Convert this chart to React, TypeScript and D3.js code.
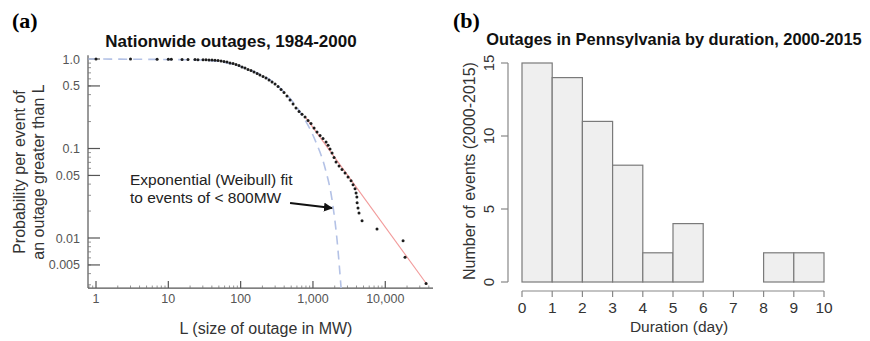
import React, { useEffect, useRef } from "react";
import * as d3 from "d3";

// (a) nationwide outages: size (MW) vs probability an outage exceeds it
const outageMW = [
  1, 3, 7, 10, 11, 15.5, 18.7, 23.4, 25.7, 30.2, 33.2, 36.5, 40.2, 44.2, 48.7,
  53.6, 58.9, 64.8, 71.3, 78.5, 86.3, 95, 104.5, 115, 126.5, 139, 153, 169, 185,
  204, 224, 247, 272, 299, 329, 362, 398, 438, 482, 531, 583, 642, 706, 777, 855,
  940, 1035, 1138, 1253, 1377, 1517, 1618, 1722, 1836, 1958, 2085, 2295, 2523,
  2778, 3055, 3363, 3583, 3818, 3945, 4050, 4080, 4200, 4335, 4775, 7690, 17620,
  18760, 36640,
];
const outageProb = [
  1.0, 0.998, 0.996, 0.994, 0.992, 0.99, 0.988, 0.986, 0.984, 0.982, 0.979,
  0.976, 0.973, 0.97, 0.962, 0.95, 0.938, 0.926, 0.902, 0.89, 0.868, 0.846, 0.814,
  0.793, 0.763, 0.744, 0.716, 0.689, 0.662, 0.638, 0.613, 0.582, 0.553, 0.526,
  0.493, 0.456, 0.422, 0.386, 0.348, 0.314, 0.283, 0.259, 0.242, 0.225, 0.205,
  0.19, 0.169, 0.153, 0.14, 0.129, 0.118, 0.109, 0.0987, 0.0892, 0.0793, 0.0707,
  0.0638, 0.0583, 0.0533, 0.048, 0.0435, 0.0393, 0.0355, 0.0318, 0.0287, 0.0247,
  0.0216, 0.019, 0.0156, 0.0126, 0.0093, 0.0061, 0.0031,
];

// exponential (Weibull) fit
const weibullMW = [0.78, 27, 135, 351, 663, 1070, 1470, 1837, 2153, 2448];
const weibullProb = [1.0, 0.975, 0.754, 0.474, 0.256, 0.124, 0.0605, 0.0266, 0.0095, 0.00276];

// power-law tail fit
const powerMW = [800, 38000];
const powerProb = [0.22, 0.003];

const xTicksA = [1, 10, 100, 1000, 10000];
const xTickLabelsA = ["1", "10", "100", "1,000", "10,000"];
const yTicksA = [1.0, 0.5, 0.1, 0.05, 0.01, 0.005];
const yTickLabelsA = ["1.0", "0.5", "0.1", "0.05", "0.01", "0.005"];

// (b) Pennsylvania outages by duration
const durationStart = [0, 1, 2, 3, 4, 5, 6, 7, 8, 9];
const durationCounts = [15, 14, 11, 8, 2, 4, 0, 0, 2, 2];
const xTicksB = [0, 1, 2, 3, 4, 5, 6, 7, 8, 9, 10];
const yTicksB = [0, 5, 10, 15];

const SANS = "'Liberation Sans', Arial, Helvetica, sans-serif";
const SERIF = "'Liberation Serif', 'Times New Roman', serif";

const App = () => {
  const ref = useRef<SVGSVGElement>(null);

  useEffect(() => {
    const svg = d3.select(ref.current);
    svg.selectAll("*").remove();

    // ---------- panel (a) ----------
    const x = d3.scaleLog().domain([0.775, 45700]).range([88, 433]);
    const y = d3.scaleLog().domain([1, 0.01]).range([59, 238]);
    const yTop = y(1.1);
    const yBot = y(0.00276);
    const a = svg.append("g");

    a.append("text")
      .attr("x", 12).attr("y", 28)
      .attr("font-family", SERIF).attr("font-weight", "bold").attr("font-size", 22)
      .text("(a)");
    a.append("text")
      .attr("x", 231).attr("y", 47).attr("text-anchor", "middle")
      .attr("font-family", SANS).attr("font-weight", "bold").attr("font-size", 17)
      .attr("fill", "#111")
      .text("Nationwide outages, 1984-2000");

    // axes
    a.append("line").attr("x1", 88).attr("x2", 88).attr("y1", yTop).attr("y2", yBot)
      .attr("stroke", "#555").attr("stroke-width", 1.2);
    a.append("line").attr("x1", 88).attr("x2", 433).attr("y1", yBot).attr("y2", yBot)
      .attr("stroke", "#555").attr("stroke-width", 1.2);

    const minorX: number[] = [];
    [0.1, 1, 10, 100, 1000, 10000].forEach((d) =>
      d3.range(2, 10).forEach((m) => {
        const v = d * m;
        if (v > 0.78 && v < 45000) minorX.push(v);
      })
    );
    a.selectAll(".mx").data(minorX).enter().append("line")
      .attr("x1", (d) => x(d)).attr("x2", (d) => x(d))
      .attr("y1", yBot).attr("y2", yBot - 2.5)
      .attr("stroke", "#777").attr("stroke-width", 0.8);
    a.selectAll(".Mx").data(xTicksA).enter().append("line")
      .attr("x1", (d) => x(d)).attr("x2", (d) => x(d))
      .attr("y1", yBot).attr("y2", yBot - 7)
      .attr("stroke", "#555").attr("stroke-width", 1.2);
    a.selectAll(".lx").data(xTicksA).enter().append("text")
      .attr("x", (d) => x(d)).attr("y", yBot + 15).attr("text-anchor", "middle")
      .attr("font-family", SANS).attr("font-size", 12.5).attr("fill", "#555")
      .text((d, i) => xTickLabelsA[i]);

    const minorY: number[] = [];
    [0.001, 0.01, 0.1].forEach((d) =>
      d3.range(2, 10).forEach((m) => {
        const v = d * m;
        if (v > 0.0028) minorY.push(v);
      })
    );
    a.selectAll(".my").data(minorY).enter().append("line")
      .attr("x1", 88).attr("x2", 91)
      .attr("y1", (d) => y(d)).attr("y2", (d) => y(d))
      .attr("stroke", "#777").attr("stroke-width", 0.8);
    a.selectAll(".My").data(yTicksA).enter().append("line")
      .attr("x1", 88).attr("x2", 100)
      .attr("y1", (d) => y(d)).attr("y2", (d) => y(d))
      .attr("stroke", "#555").attr("stroke-width", 1.2);
    a.selectAll(".ly").data(yTicksA).enter().append("text")
      .attr("x", 80).attr("y", (d) => y(d) + 4.5).attr("text-anchor", "end")
      .attr("font-family", SANS).attr("font-size", 12.5).attr("fill", "#555")
      .text((d, i) => yTickLabelsA[i]);

    // axis titles
    a.append("text")
      .attr("transform", "translate(25,172) rotate(-90)").attr("text-anchor", "middle")
      .attr("font-family", SANS).attr("font-size", 16).attr("fill", "#333")
      .text("Probability per event of");
    a.append("text")
      .attr("transform", "translate(44,172) rotate(-90)").attr("text-anchor", "middle")
      .attr("font-family", SANS).attr("font-size", 16).attr("fill", "#333")
      .text("an outage greater than L");
    a.append("text")
      .attr("x", 266).attr("y", 334).attr("text-anchor", "middle")
      .attr("font-family", SANS).attr("font-size", 16).attr("fill", "#333")
      .text("L (size of outage in MW)");

    // fits
    const line = d3.line<[number, number]>().x((d) => x(d[0])).y((d) => y(d[1]))
      .curve(d3.curveMonotoneX);
    a.append("path")
      .attr("d", line(weibullMW.map((v, i) => [v, weibullProb[i]]) as [number, number][]))
      .attr("fill", "none").attr("stroke", "#b4c2e6").attr("stroke-width", 1.6)
      .attr("stroke-dasharray", "9,6");
    a.append("path")
      .attr("d", d3.line<[number, number]>().x((d) => x(d[0])).y((d) => y(d[1]))(
        powerMW.map((v, i) => [v, powerProb[i]]) as [number, number][]
      ))
      .attr("fill", "none").attr("stroke", "#f29a9a").attr("stroke-width", 1.1);

    a.selectAll(".pt").data(outageMW).enter().append("circle")
      .attr("cx", (d) => x(d)).attr("cy", (d, i) => y(outageProb[i]))
      .attr("r", 1.5).attr("fill", "#1c1c1c");

    // annotation
    a.append("text")
      .attr("x", x(2.95)).attr("y", y(0.039))
      .attr("font-family", SANS).attr("font-size", 15.5).attr("fill", "#222")
      .text("Exponential (Weibull) fit");
    a.append("text")
      .attr("x", x(2.95)).attr("y", y(0.039) + 18)
      .attr("font-family", SANS).attr("font-size", 15.5).attr("fill", "#222")
      .text("to events of < 800MW");
    svg.append("defs").append("marker")
      .attr("id", "arr").attr("viewBox", "0 0 10 10").attr("refX", 9).attr("refY", 5)
      .attr("markerWidth", 4.5).attr("markerHeight", 4.5).attr("orient", "auto")
      .append("path").attr("d", "M0,0 L10,5 L0,10 z").attr("fill", "#111");
    a.append("line")
      .attr("x1", x(482)).attr("y1", y(0.0246)).attr("x2", x(1836)).attr("y2", y(0.0216))
      .attr("stroke", "#111").attr("stroke-width", 2).attr("marker-end", "url(#arr)");

    // ---------- panel (b) ----------
    const xb = d3.scaleLinear().domain([0, 10]).range([522, 824]);
    const yb = d3.scaleLinear().domain([0, 15]).range([282, 63]);
    const b = svg.append("g");

    b.append("text")
      .attr("x", 453).attr("y", 28)
      .attr("font-family", SERIF).attr("font-weight", "bold").attr("font-size", 22)
      .text("(b)");
    b.append("text")
      .attr("x", 674).attr("y", 45).attr("text-anchor", "middle")
      .attr("font-family", SANS).attr("font-weight", "bold").attr("font-size", 16.4)
      .attr("fill", "#111")
      .text("Outages in Pennsylvania by duration, 2000-2015");

    b.selectAll(".bar").data(durationCounts).enter().append("rect")
      .attr("x", (d, i) => xb(durationStart[i]))
      .attr("width", (d, i) => xb(durationStart[i] + 1) - xb(durationStart[i]))
      .attr("y", (d) => yb(d))
      .attr("height", (d) => yb(0) - yb(d))
      .attr("fill", "#efefef").attr("stroke", "#7a7a7a").attr("stroke-width", 1.2);

    b.append("line").attr("x1", xb(0)).attr("x2", xb(10)).attr("y1", 291).attr("y2", 291)
      .attr("stroke", "#888").attr("stroke-width", 1.2);
    b.selectAll(".tx").data(xTicksB).enter().append("line")
      .attr("x1", (d) => xb(d)).attr("x2", (d) => xb(d)).attr("y1", 291).attr("y2", 297)
      .attr("stroke", "#888").attr("stroke-width", 1.2);
    b.selectAll(".lxb").data(xTicksB).enter().append("text")
      .attr("x", (d) => xb(d)).attr("y", 313).attr("text-anchor", "middle")
      .attr("font-family", SANS).attr("font-size", 15.5).attr("fill", "#333")
      .text((d) => d);
    b.append("text")
      .attr("x", 679).attr("y", 332).attr("text-anchor", "middle")
      .attr("font-family", SANS).attr("font-size", 15.5).attr("fill", "#333")
      .text("Duration (day)");

    b.append("line").attr("x1", 508).attr("x2", 508).attr("y1", yb(0)).attr("y2", yb(15))
      .attr("stroke", "#888").attr("stroke-width", 1.2);
    b.selectAll(".ty").data(yTicksB).enter().append("line")
      .attr("x1", 501).attr("x2", 508).attr("y1", (d) => yb(d)).attr("y2", (d) => yb(d))
      .attr("stroke", "#888").attr("stroke-width", 1.2);
    b.selectAll(".lyb").data(yTicksB).enter().append("text")
      .attr("transform", (d) => `translate(494,${yb(d)}) rotate(-90)`)
      .attr("text-anchor", "middle")
      .attr("font-family", SANS).attr("font-size", 15).attr("fill", "#333")
      .text((d) => d);
    b.append("text")
      .attr("transform", "translate(475,171) rotate(-90)").attr("text-anchor", "middle")
      .attr("font-family", SANS).attr("font-size", 16).attr("fill", "#333")
      .text("Number of events (2000-2015)");
  }, []);

  return (
    <div style={{ position: "absolute", left: 0, top: 0 }}>
      <svg ref={ref} width={870} height={341} style={{ display: "block", background: "#fff" }} />
    </div>
  );
};

export default App;
